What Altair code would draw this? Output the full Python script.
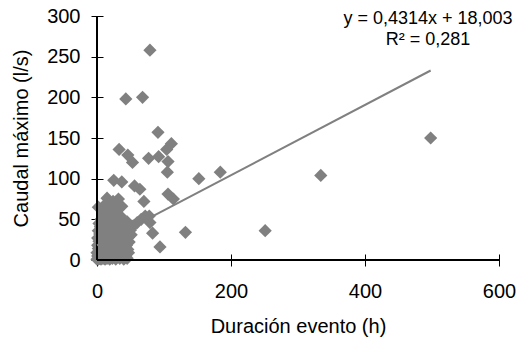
import altair as alt
import pandas as pd

# ---- data ----
dur = [
    79, 43, 68, 91, 33, 46, 53, 77, 92, 104, 111, 106, 105, 25, 37, 152, 184, 56, 64, 70,
    106, 114, 78, 79, 83, 132, 251, 94, 498, 334, 15, 2, 32, 37, 24,
    0, 2, 4, 6, 9, 12, 15, 19, 23, 28, 34, 40, 45,
    1, 3, 6, 9, 13, 17, 21, 26, 31, 37, 43,
    0, 4, 8, 11, 15, 19, 24, 29, 35, 41, 47,
    2, 6, 10, 14, 18, 22, 27, 33, 39, 46,
    1, 5, 9, 13, 17, 21, 26, 31, 37, 44,
    3, 7, 12, 16, 20, 25, 30, 36, 42, 48,
    1, 6, 10, 15, 19, 24, 29, 35, 41, 47,
    4, 9, 13, 18, 23, 28, 33, 39, 45, 51,
    2, 7, 12, 16, 21, 26, 31, 37, 43, 50,
    5, 10, 15, 19, 24, 30, 35, 41, 47, 54,
    3, 8, 13, 18, 22, 28, 33, 39, 45, 60,
    6, 11, 16, 21, 26, 31, 37, 66,
    9, 14, 19, 24, 29, 35, 72,
    8, 13, 18, 23, 28,
    12, 20, 28,
]
caudal = [
    258, 198, 200, 157, 136, 129, 120, 125, 127, 136, 143, 121, 108, 98, 96, 100, 108, 91, 87, 72,
    81, 75, 54, 46, 33, 34, 36, 16, 150, 104, 76, 65, 75, 66, 72,
    1, 1, 2, 1, 2, 1, 2, 1, 2, 1, 2, 1, 2,
    5, 6, 5, 6, 5, 6, 5, 6, 5, 6, 5,
    9, 10, 9, 10, 9, 10, 9, 10, 9, 10, 9,
    14, 13, 14, 13, 14, 13, 14, 13, 14, 13,
    18, 18, 19, 18, 19, 18, 19, 18, 19, 18,
    23, 22, 23, 22, 23, 22, 23, 22, 23, 22,
    27, 28, 27, 28, 27, 28, 27, 28, 27, 28,
    32, 31, 32, 31, 32, 31, 32, 31, 32, 31,
    36, 37, 36, 37, 36, 37, 36, 37, 36, 37,
    41, 40, 41, 40, 41, 40, 41, 40, 41, 42,
    45, 46, 45, 46, 45, 46, 45, 46, 47, 46,
    50, 51, 50, 51, 50, 51, 50, 50,
    55, 56, 55, 56, 55, 54, 54,
    60, 61, 60, 61, 59,
    68, 66, 64,
]
trend_x = [0, 498]
trend_y = [18, 233]
x_ticks = [0, 200, 400, 600]
y_ticks = [0, 50, 100, 150, 200, 250, 300]
eq_text = ["y = 0,4314x + 18,003", "R² = 0,281"]
eq_x = [494, 494]
eq_y = [296, 271]

FONT = "Liberation Sans"
GRAY = "#808080"

pts = pd.DataFrame({"dur": dur, "caudal": caudal})
trend = pd.DataFrame({"dur": trend_x, "caudal": trend_y})
eq = pd.DataFrame({"ex": eq_x, "ey": eq_y, "t": eq_text})

xscale = alt.Scale(domain=[0, 600], nice=False, zero=False)
yscale = alt.Scale(domain=[0, 300], nice=False, zero=False)

xaxis = alt.Axis(values=x_ticks, title="Duración evento (h)", offset=-6, tickSize=12,
                 domain=False, grid=False, labelPadding=15, titlePadding=15, labelFlush=False,
                 tickColor="black", labelFont=FONT, labelFontSize=20, labelColor="black",
                 titleFont=FONT, titleFontSize=20, titleFontWeight="normal", titleColor="black")
yaxis = alt.Axis(values=y_ticks, title="Caudal máximo (l/s)", offset=-6, tickSize=12,
                 domain=False, grid=False, labelPadding=11, titlePadding=15, labelFlush=False,
                 tickColor="black", labelFont=FONT, labelFontSize=20, labelColor="black",
                 titleFont=FONT, titleFontSize=20, titleFontWeight="normal", titleColor="black")

points = alt.Chart(pts).mark_point(shape="diamond", filled=True, size=175, color=GRAY,
                                   opacity=1, strokeWidth=0).encode(
    x=alt.X("dur:Q", scale=xscale, axis=xaxis),
    y=alt.Y("caudal:Q", scale=yscale, axis=yaxis),
)

line = alt.Chart(trend).mark_line(color=GRAY, strokeWidth=2).encode(
    x=alt.X("dur:Q", scale=xscale),
    y=alt.Y("caudal:Q", scale=yscale),
)

xdomain = alt.Chart(pts).mark_rule(color="black", strokeWidth=1).encode(y=alt.datum(0))
ydomain = alt.Chart(pts).mark_rule(color="black", strokeWidth=1).encode(x=alt.datum(0))

text = alt.Chart(eq).mark_text(font=FONT, fontSize=18, color="black", align="center",
                               baseline="middle").encode(
    x=alt.X("ex:Q", scale=xscale),
    y=alt.Y("ey:Q", scale=yscale),
    text="t:N",
)

chart = alt.layer(points, xdomain, ydomain, line, text).properties(
    width=402, height=244,
    autosize=alt.AutoSizeParams(type="none"),
    padding={"left": 97, "top": 16, "right": 24, "bottom": 81},
    background="white",
).configure_view(stroke=None)

chart.save("out.html", embed_options={"renderer": "svg", "actions": False})
